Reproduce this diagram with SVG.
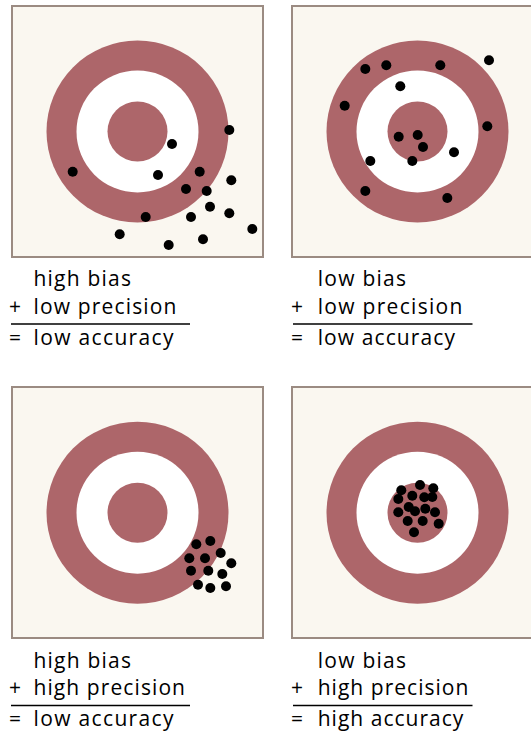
<svg xmlns="http://www.w3.org/2000/svg" width="531" height="734" viewBox="0 0 531 734">
<defs>
<style>
.box{fill:#faf7f0;stroke:#9b8b82;stroke-width:2}
.ring{fill:#ad666a}
.white{fill:#ffffff}
.dot{fill:#000000}
.t{font-family:"Open Sans","Liberation Sans",sans-serif;font-size:21px;fill:#000}
.rule{stroke:#000;stroke-width:1.5}
</style>
<g id="target">
<circle r="91" class="ring"/>
<circle r="61" class="white"/>
<circle r="30" class="ring"/>
</g>
</defs>
<rect width="531" height="734" fill="#ffffff"/>

<g id="panel1">
<rect x="12" y="6" width="251" height="251" class="box"/>
<use href="#target" x="137.5" y="131.5"/>
<g class="dot">
<circle cx="229.3" cy="130" r="5"/>
<circle cx="172" cy="144" r="5"/>
<circle cx="72.7" cy="171.7" r="5"/>
<circle cx="158" cy="175" r="5"/>
<circle cx="199.7" cy="171.7" r="5"/>
<circle cx="231.3" cy="180.3" r="5"/>
<circle cx="186" cy="189" r="5"/>
<circle cx="206.7" cy="191" r="5"/>
<circle cx="210" cy="206.7" r="5"/>
<circle cx="229.3" cy="213.3" r="5"/>
<circle cx="145.7" cy="217" r="5"/>
<circle cx="191" cy="217" r="5"/>
<circle cx="252.3" cy="229" r="5"/>
<circle cx="119.7" cy="234.3" r="5"/>
<circle cx="203" cy="239.3" r="5"/>
<circle cx="168.7" cy="245" r="5"/>
</g>
<text class="t" x="33.5" y="286" textLength="97.5" lengthAdjust="spacing">high bias</text>
<text class="t" x="9" y="313.5">+</text>
<text class="t" x="33.5" y="313.5" textLength="143" lengthAdjust="spacing">low precision</text>
<line x1="11" y1="324" x2="190" y2="324" class="rule"/>
<text class="t" x="9" y="344.5">=</text>
<text class="t" x="33.5" y="344.5" textLength="140" lengthAdjust="spacing">low accuracy</text>
</g>

<g id="panel2">
<rect x="292" y="6" width="251" height="251" class="box"/>
<use href="#target" x="417.5" y="131.5"/>
<g class="dot">
<circle cx="489" cy="60.3" r="5"/>
<circle cx="365.3" cy="69" r="5"/>
<circle cx="386.3" cy="65.3" r="5"/>
<circle cx="440.3" cy="65.3" r="5"/>
<circle cx="400.3" cy="86.3" r="5"/>
<circle cx="344.7" cy="105.7" r="5"/>
<circle cx="487.3" cy="126.3" r="5"/>
<circle cx="398.7" cy="136.7" r="5"/>
<circle cx="417.7" cy="135" r="5"/>
<circle cx="423" cy="147" r="5"/>
<circle cx="454" cy="152.3" r="5"/>
<circle cx="370.3" cy="161" r="5"/>
<circle cx="412.3" cy="161" r="5"/>
<circle cx="365.3" cy="191" r="5"/>
<circle cx="447.3" cy="198" r="5"/>
</g>
<text class="t" x="317.7" y="286" textLength="88.3" lengthAdjust="spacing">low bias</text>
<text class="t" x="291" y="313.5">+</text>
<text class="t" x="317.7" y="313.5" textLength="144.7" lengthAdjust="spacing">low precision</text>
<line x1="293" y1="324" x2="472.5" y2="324" class="rule"/>
<text class="t" x="291" y="344.5">=</text>
<text class="t" x="317.7" y="344.5" textLength="137.3" lengthAdjust="spacing">low accuracy</text>
</g>

<g id="panel3">
<rect x="12" y="387" width="251" height="251" class="box"/>
<use href="#target" x="137.5" y="512.7"/>
<g class="dot">
<circle cx="196.3" cy="544.3" r="5"/>
<circle cx="210.3" cy="541" r="5"/>
<circle cx="189.3" cy="558.3" r="5"/>
<circle cx="205" cy="558.3" r="5"/>
<circle cx="220.7" cy="553" r="5"/>
<circle cx="231.3" cy="563.3" r="5"/>
<circle cx="191" cy="570.7" r="5"/>
<circle cx="208.3" cy="570.7" r="5"/>
<circle cx="222.3" cy="574" r="5"/>
<circle cx="198" cy="584.7" r="5"/>
<circle cx="210.3" cy="588" r="5"/>
<circle cx="226" cy="586.3" r="5"/>
</g>
<text class="t" x="33.5" y="667.5" textLength="97.5" lengthAdjust="spacing">high bias</text>
<text class="t" x="9" y="694.5">+</text>
<text class="t" x="33.5" y="694.5" textLength="151.5" lengthAdjust="spacing">high precision</text>
<line x1="11" y1="705.5" x2="190" y2="705.5" class="rule"/>
<text class="t" x="9" y="725.5">=</text>
<text class="t" x="33.5" y="725.5" textLength="140" lengthAdjust="spacing">low accuracy</text>
</g>

<g id="panel4">
<rect x="292" y="387" width="251" height="251" class="box"/>
<use href="#target" x="417.5" y="512.7"/>
<g class="dot">
<circle cx="420" cy="485" r="5"/>
<circle cx="401.3" cy="490.3" r="5"/>
<circle cx="433.3" cy="488.3" r="5"/>
<circle cx="398.3" cy="499" r="5"/>
<circle cx="412.3" cy="495.7" r="5"/>
<circle cx="424.3" cy="497.3" r="5"/>
<circle cx="432.3" cy="497" r="5"/>
<circle cx="408.7" cy="507" r="5"/>
<circle cx="415" cy="511.3" r="5"/>
<circle cx="425.3" cy="508.7" r="5"/>
<circle cx="398.3" cy="512.3" r="5"/>
<circle cx="435" cy="512.3" r="5"/>
<circle cx="407.7" cy="521" r="5"/>
<circle cx="422.7" cy="521" r="5"/>
<circle cx="438.7" cy="523.7" r="5"/>
<circle cx="414" cy="532.3" r="5"/>
</g>
<text class="t" x="317.7" y="667.5" textLength="88.3" lengthAdjust="spacing">low bias</text>
<text class="t" x="291" y="694.5">+</text>
<text class="t" x="317.7" y="694.5" textLength="150.7" lengthAdjust="spacing">high precision</text>
<line x1="293" y1="705.5" x2="472.5" y2="705.5" class="rule"/>
<text class="t" x="291" y="725.5">=</text>
<text class="t" x="317.7" y="725.5" textLength="145.7" lengthAdjust="spacing">high accuracy</text>
</g>
</svg>
